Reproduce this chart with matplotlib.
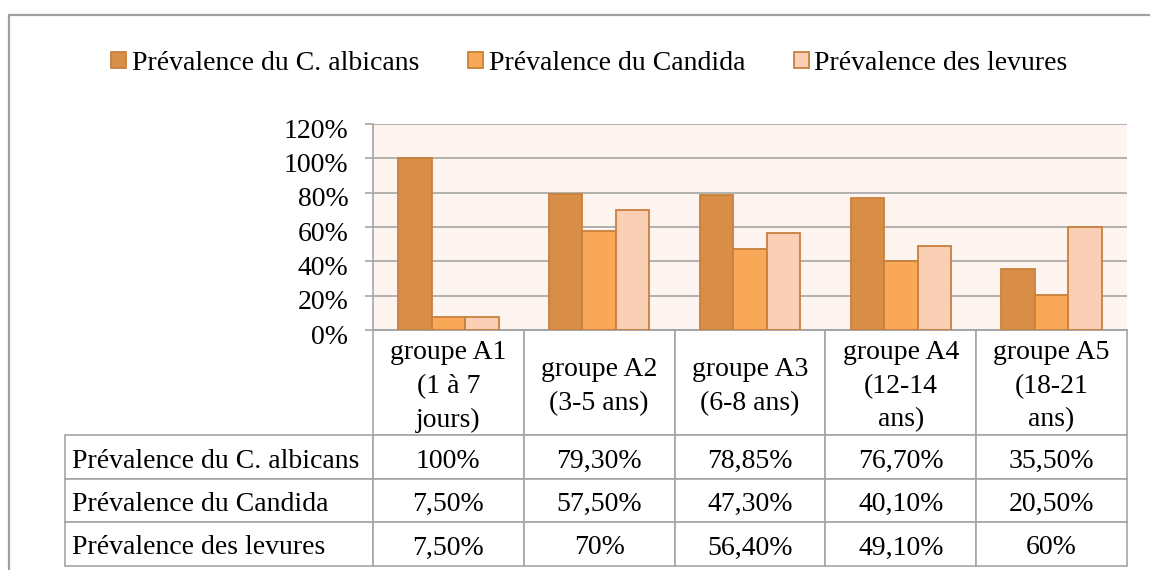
import numpy as np
import matplotlib
matplotlib.use("Agg")
import matplotlib.pyplot as plt
from matplotlib.patches import Rectangle
from matplotlib.table import Table
from matplotlib.ticker import PercentFormatter
from matplotlib.transforms import Affine2D, ScaledTranslation

# =============================
# DATA
# =============================

groups = [
    "groupe A1\n(1 à 7\njours)",
    "groupe A2\n(3-5 ans)",
    "groupe A3\n(6-8 ans)",
    "groupe A4\n(12-14\nans)",
    "groupe A5\n(18-21\nans)",
]
series_names = [
    "Prévalence du C. albicans",
    "Prévalence du Candida",
    "Prévalence des levures",
]
albicans = [100, 79.30, 78.85, 76.70, 35.50]
candida = [7.50, 57.50, 47.30, 40.10, 20.50]
levures = [7.50, 70, 56.40, 49.10, 60]
table_text = [
    ["100%", "79,30%", "78,85%", "76,70%", "35,50%"],
    ["7,50%", "57,50%", "47,30%", "40,10%", "20,50%"],
    ["7,50%", "70%", "56,40%", "49,10%", "60%"],
]
y_ticks = [0, 20, 40, 60, 80, 100, 120]

# =============================
# STYLE
# =============================

plt.rcParams['font.family'] = ['Liberation Serif', 'DejaVu Serif']
FS = 20
GRID = "#A5A5A5"
fills = ["#D98E48", "#F8A857", "#FBCFB5"]
edge = "#C8803C"

W, H = 1150, 570
fig = plt.figure(figsize=(W / 100, H / 100), dpi=100)

# outer chart frame
fig.patches.append(Rectangle((9 / W, -0.1), 1.2, 1 - 15 / H + 0.1,
                             transform=fig.transFigure, fill=False,
                             edgecolor="#A0A0A0", linewidth=1.6))

ax_l, ax_r, ax_t, ax_b = 373, 1127, 124, 330
ax = fig.add_axes([ax_l / W, 1 - ax_b / H, (ax_r - ax_l) / W, (ax_b - ax_t) / H])
ax.set_facecolor("#FDF4F0")

x = np.arange(len(groups))
bw = 0.222
for i, vals in enumerate([albicans, candida, levures]):
    ax.bar(x + (i - 1) * bw, vals, bw, color=fills[i], edgecolor=edge,
           linewidth=1.3, label=series_names[i], zorder=3)

ax.set_xlim(-0.5, len(groups) - 0.5)
ax.set_ylim(0, 120)
ax.set_yticks(y_ticks)
ax.yaxis.set_major_formatter(PercentFormatter(decimals=0))
ax.set_xticks([])
ax.grid(axis="y", color=GRID, linewidth=1.2, zorder=0)
ax.tick_params(axis="y", length=5.8, width=1.2, color=GRID, labelsize=FS, pad=12)
for s in ["top", "right"]:
    ax.spines[s].set_visible(False)
for s in ["left", "bottom"]:
    ax.spines[s].set_color(GRID)
    ax.spines[s].set_linewidth(1.2)
down = ScaledTranslation(0, -3 / 72, fig.dpi_scale_trans)
for lbl in ax.get_yticklabels():
    lbl.set_transform(lbl.get_transform() + down)

# =============================
# DATA TABLE
# =============================

span = ax_b - ax_t
row_edges = [330, 435, 479, 522, 566]
label_w = (ax_l - 65) / (ax_r - ax_l)
col_w = 1 / len(groups)

tab = Table(ax, bbox=[-label_w, -(row_edges[-1] - ax_b) / span,
                      1 + label_w, (row_edges[-1] - ax_b) / span])
heights = [(row_edges[k + 1] - row_edges[k]) / span for k in range(4)]
for j, g in enumerate(groups):
    c = tab.add_cell(0, j + 1, col_w, heights[0], text=g, loc="center",
                     edgecolor=GRID, facecolor="white")
    c.get_text().set_linespacing(1.45)
for r, name in enumerate(series_names):
    c = tab.add_cell(r + 1, 0, label_w, heights[r + 1], text=name, loc="left",
                     edgecolor=GRID, facecolor="white")
    c.PAD = 7 / (ax_l - 65)
    for j, t in enumerate(table_text[r]):
        tab.add_cell(r + 1, j + 1, col_w, heights[r + 1], text=t, loc="center",
                     edgecolor=GRID, facecolor="white")
tab.auto_set_font_size(False)
tab.set_fontsize(FS)
for cell in tab.get_celld().values():
    cell.set_linewidth(1.2)
    cell.get_text().set_transform(Affine2D().translate(0, -4))
ax.add_table(tab)

# =============================
# LEGEND
# =============================

fig.legend(loc="center", bbox_to_anchor=(589.5 / W, 1 - 63.5 / H), ncol=3,
           frameon=False, fontsize=FS, handlelength=0.54, handleheight=0.54,
           handletextpad=0.2, columnspacing=1.75, borderpad=0)

fig.savefig("out.png", dpi=100)
